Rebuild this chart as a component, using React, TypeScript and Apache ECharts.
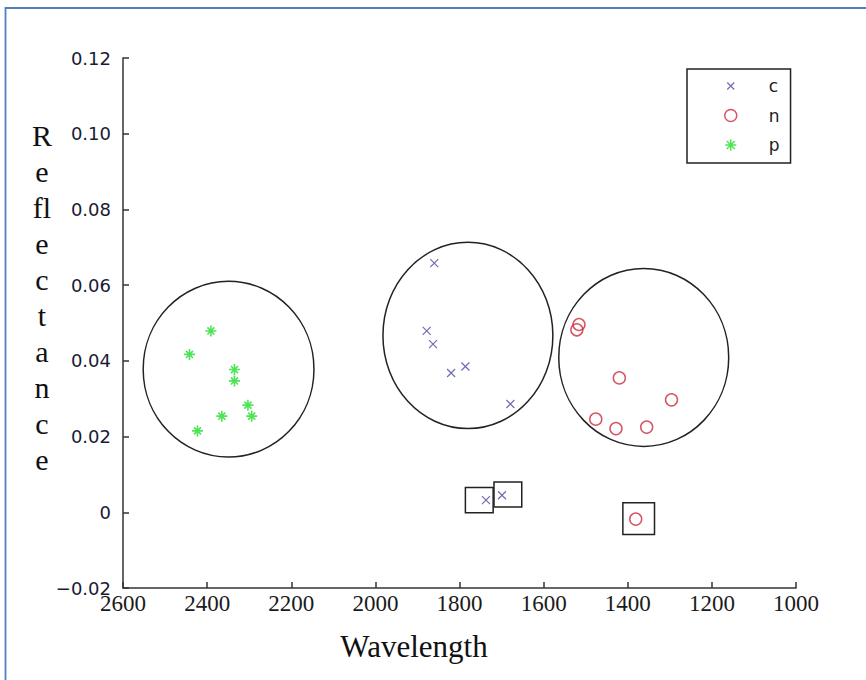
import React, { useEffect, useRef } from "react";
import * as echarts from "echarts";

// ---- data ----
const cWavelength = [1860, 1878, 1863, 1820, 1786, 1679, 1737, 1699];
const cReflectance = [0.0658, 0.0479, 0.0444, 0.0368, 0.0385, 0.0286, 0.0032, 0.0045];
const nWavelength = [1516, 1521, 1420, 1296, 1476, 1428, 1355, 1381];
const nReflectance = [0.0496, 0.0482, 0.0355, 0.0297, 0.0246, 0.0221, 0.0225, -0.0018];
const pWavelength = [2391, 2442, 2335, 2335, 2303, 2294, 2365, 2423];
const pReflectance = [0.0479, 0.0417, 0.0377, 0.0347, 0.0283, 0.0254, 0.0254, 0.0215];

// cluster ellipses: [centerWavelength, centerReflectance, radiusWavelength, radiusReflectance]
const clusterEllipses = [
  [2349, 0.0378, 203, 0.0232],
  [1780, 0.0467, 202, 0.0246],
  [1362, 0.0409, 202, 0.0235],
];
// outlier boxes: [centerWavelength, centerReflectance, halfWidth, halfHeight]
const outlierBoxes = [
  [1753, 0.0032, 33, 0.00335],
  [1685, 0.0047, 33, 0.0033],
  [1374, -0.0017, 37.6, 0.0042],
];

const seriesNames = ["c", "n", "p"];
const xTicks = { min: 1000, max: 2600, interval: 200 };
const yTicks = { min: -0.02, max: 0.12, interval: 0.02 };

const COLOR_C = "#4848a0";
const COLOR_N = "#cc2a40";
const COLOR_P = "#22dd2a";

const crossPath = "path://M0,0L10,10M10,0L0,10";
const starPath = "path://M5,0L5,10M0,5L10,5M1.8,1.8L8.2,8.2M8.2,1.8L1.8,8.2";

const legendCross = "path://M0,0M14,14M3.5,3.5L10.5,10.5M10.5,3.5L3.5,10.5";
const legendCircle = "path://M0,0M14,14M13,7A6,6,0,1,1,1,7A6,6,0,1,1,13,7Z";
const legendStar = "path://M0,0M14,14M7,1.5L7,12.5M1.5,7L12.5,7M3,3L11,11M11,3L3,11";

function zip(xs: number[], ys: number[]) {
  return xs.map((x, i) => [x, ys[i]]);
}

export default function App() {
  const ref = useRef<HTMLDivElement>(null);
  useEffect(() => {
    if (!ref.current) return;
    const chart = echarts.init(ref.current, undefined, { renderer: "svg" });
    const option: any = {
      animation: false,
      backgroundColor: "#ffffff",
      grid: { left: 123, top: 58, right: 70, bottom: 92, containLabel: false },
      xAxis: {
        type: "value",
        inverse: true,
        min: xTicks.min,
        max: xTicks.max,
        interval: xTicks.interval,
        splitLine: { show: false },
        axisLine: { show: true, onZero: false, lineStyle: { color: "#333", width: 1.5 } },
        axisTick: { show: true, inside: true, length: 6, lineStyle: { color: "#333", width: 1.5 } },
        axisLabel: {
          margin: 4,
          color: "#1a1a1a",
          fontFamily: "Liberation Serif",
          fontSize: 23,
          formatter: (v: number) => String(v),
        },
      },
      yAxis: {
        type: "value",
        min: yTicks.min,
        max: yTicks.max,
        interval: yTicks.interval,
        splitLine: { show: false },
        axisLine: { show: true, onZero: false, lineStyle: { color: "#333", width: 1.5 } },
        axisTick: { show: true, inside: true, length: 6, lineStyle: { color: "#333", width: 1.5 } },
        axisLabel: {
          margin: 12,
          color: "#1a1a33",
          fontFamily: "DejaVu Sans",
          fontSize: 18,
          formatter: (v: number) => {
            if (Math.abs(v) < 1e-9) return "0";
            const s = Math.abs(v).toFixed(2);
            return v < 0 ? "\u2212" + s : s;
          },
        },
      },
      legend: {
        left: 687,
        top: 69,
        orient: "vertical",
        padding: [8, 11, 9, 36],
        itemGap: 11.5,
        itemWidth: 14,
        itemHeight: 14,
        borderColor: "#222",
        borderWidth: 1.5,
        textStyle: {
          fontFamily: "DejaVu Sans",
          fontSize: 17,
          lineHeight: 18,
          color: "#222",
          padding: [0, 0, 0, 26],
        },
        data: [
          { name: seriesNames[0], icon: legendCross, itemStyle: { color: "transparent", borderColor: COLOR_C, borderWidth: 1.2 } },
          { name: seriesNames[1], icon: legendCircle, itemStyle: { color: "transparent", borderColor: COLOR_N, borderWidth: 1.5 } },
          { name: seriesNames[2], icon: legendStar, itemStyle: { color: "transparent", borderColor: COLOR_P, borderWidth: 1.5 } },
        ],
      },
      graphic: [
        {
          type: "rect",
          shape: { x: 5.5, y: 8, width: 900, height: 700 },
          style: { fill: "none", stroke: "#4f81bd", lineWidth: 1.8 },
          silent: true,
        },
        {
          type: "text",
          x: 42,
          y: 117,
          style: {
            text: "R\ne\nfl\ne\nc\nt\na\nn\nc\ne",
            font: "30px 'Liberation Serif'",
            lineHeight: 36,
            align: "center",
            verticalAlign: "top",
            fill: "#111",
          },
        },
        {
          type: "text",
          x: 414,
          y: 646,
          style: {
            text: "Wavelength",
            font: "31px 'Liberation Serif'",
            align: "center",
            verticalAlign: "middle",
            fill: "#111",
          },
        },
      ],
      series: [
        {
          name: seriesNames[0],
          type: "scatter",
          symbol: crossPath,
          symbolSize: 8,
          itemStyle: { color: "transparent", borderColor: COLOR_C, borderWidth: 1.2 },
          data: zip(cWavelength, cReflectance),
          z: 5,
        },
        {
          name: seriesNames[1],
          type: "scatter",
          symbol: "circle",
          symbolSize: 12,
          itemStyle: { color: "transparent", borderColor: COLOR_N, borderWidth: 1.5 },
          data: zip(nWavelength, nReflectance),
          z: 5,
        },
        {
          name: seriesNames[2],
          type: "scatter",
          symbol: starPath,
          symbolSize: 11,
          itemStyle: { color: "transparent", borderColor: COLOR_P, borderWidth: 1.6 },
          data: zip(pWavelength, pReflectance),
          z: 5,
        },
        {
          name: "clusters",
          type: "custom",
          silent: true,
          clip: false,
          data: clusterEllipses,
          encode: { x: 0, y: 1 },
          renderItem: (params: any, api: any) => {
            const c = api.coord([api.value(0), api.value(1)]);
            const s = api.size([api.value(2), api.value(3)]);
            return {
              type: "ellipse",
              shape: { cx: c[0], cy: c[1], rx: Math.abs(s[0]), ry: Math.abs(s[1]) },
              style: { fill: "none", stroke: "#222", lineWidth: 1.5 },
            };
          },
          z: 3,
        },
        {
          name: "outliers",
          type: "custom",
          silent: true,
          clip: false,
          data: outlierBoxes,
          encode: { x: 0, y: 1 },
          renderItem: (params: any, api: any) => {
            const c = api.coord([api.value(0), api.value(1)]);
            const s = api.size([api.value(2), api.value(3)]);
            const w = Math.abs(s[0]);
            const h = Math.abs(s[1]);
            return {
              type: "rect",
              shape: { x: c[0] - w, y: c[1] - h, width: 2 * w, height: 2 * h },
              style: { fill: "none", stroke: "#222", lineWidth: 1.5 },
            };
          },
          z: 3,
        },
      ],
    };
    chart.setOption(option);
    return () => chart.dispose();
  }, []);
  return (
    <div
      ref={ref}
      style={{ position: "fixed", left: 0, top: 0, width: 866, height: 680, background: "#fff" }}
    />
  );
}
